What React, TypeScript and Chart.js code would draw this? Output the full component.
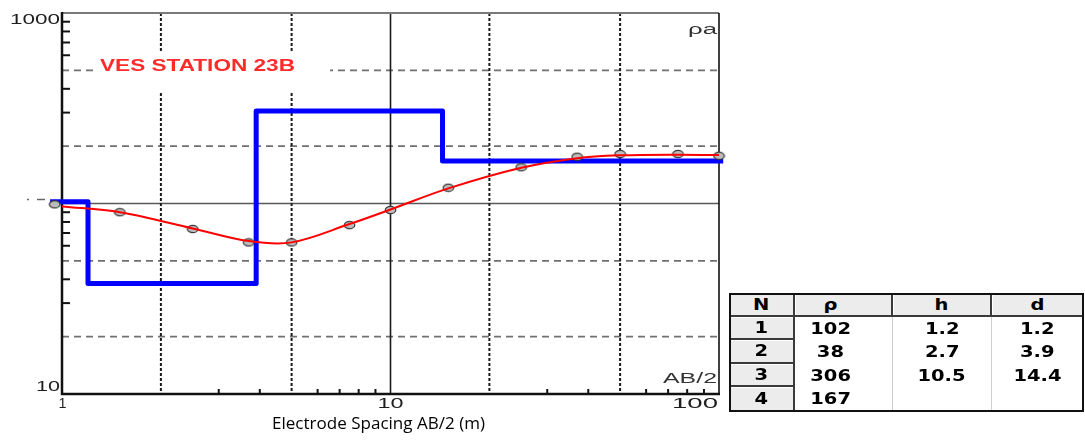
import React, { useEffect, useRef } from "react";
import { Chart, registerables } from "chart.js";

Chart.register(...registerables);

// ---- Data ----
const abHalf = [0.95, 1.5, 2.5, 3.7, 5, 7.5, 10, 15, 25, 37, 50, 75, 100];
const rhoApparent = [99, 90, 73.5, 62.5, 62.5, 77, 92.5, 121, 155, 176, 182, 182, 178];

const curveAB = [1, 1.5, 2.5, 3.7, 5, 7.5, 10, 15, 25, 37, 50, 75, 100, 103];
const curveRho = [96.5, 90, 74, 63.5, 62.5, 78, 93, 120, 154, 173, 179, 180.5, 179.5, 179];

const layerN = [1, 2, 3, 4];
const layerRho = [102, 38, 306, 167];
const layerThick = [1.2, 2.7, 10.5];
const layerDepth = [1.2, 3.9, 14.4];
const modelStart = 0.92;
const modelEnd = 103;

const xTickLabels = ["1", "10", "100"];
const xTickValues = [1, 10, 100];
const yTickLabels = ["10", "1000"];
const yTickValues = [10, 1000];
const xMinorTicks = [3, 4, 6, 7, 8, 9, 30, 40, 60, 70, 80, 90];
const xDottedGrid = [2, 5, 20, 50];
const xSolidGrid = [10];
const yMinorTicks = [30, 40, 60, 70, 80, 90, 300, 400, 600, 700, 800, 900];
const yDashedGrid = [20, 50, 200, 500];
const ySolidGrid = [100];

const chartTitle = "VES STATION 23B";
const xAxisTitle = "Electrode Spacing AB/2 (m)";
const yCornerLabel = "ρa";
const xCornerLabel = "AB/2";
const tableHeaders = ["N", "ρ", "h", "d"];

// ---- helpers ----
function makeMarker(): HTMLCanvasElement {
  const c = document.createElement("canvas");
  c.width = 13;
  c.height = 10;
  const g = c.getContext("2d")!;
  g.beginPath();
  g.ellipse(6.5, 5, 5.3, 3.7, 0, 0, Math.PI * 2);
  g.fillStyle = "#bcbcbc";
  g.fill();
  g.lineWidth = 1.2;
  g.strokeStyle = "#3a3a3a";
  g.stroke();
  return c;
}

function txt(
  ctx: CanvasRenderingContext2D,
  s: string,
  x: number,
  y: number,
  font: string,
  color: string,
  align: CanvasTextAlign,
  width?: number
) {
  ctx.save();
  ctx.font = font;
  ctx.fillStyle = color;
  ctx.textBaseline = "middle";
  const w = ctx.measureText(s).width;
  const sx = width ? width / w : 1;
  ctx.translate(x, y);
  ctx.scale(sx, 1);
  ctx.textAlign = align;
  ctx.fillText(s, 0, 0);
  ctx.restore();
}

function line(ctx: CanvasRenderingContext2D, x1: number, y1: number, x2: number, y2: number) {
  ctx.beginPath();
  ctx.moveTo(x1, y1);
  ctx.lineTo(x2, y2);
  ctx.stroke();
}

const framePlugin = {
  id: "vesFrame",
  beforeDatasetsDraw(chart: any) {
    const { ctx, chartArea: a, scales } = chart;
    const x = scales.x;
    const y = scales.y;
    ctx.save();

    // horizontal dashed grid
    ctx.lineWidth = 1.8;
    ctx.strokeStyle = "#707070";
    ctx.setLineDash([7, 5]);
    for (const v of yDashedGrid) {
      const py = y.getPixelForValue(v);
      line(ctx, a.left, py, a.right, py);
    }
    // horizontal solid grid
    ctx.setLineDash([]);
    ctx.strokeStyle = "#5a5a5a";
    ctx.lineWidth = 1.3;
    for (const v of ySolidGrid) {
      const py = y.getPixelForValue(v);
      line(ctx, a.left, py, a.right, py);
    }
    // vertical dotted grid
    ctx.strokeStyle = "#1a1a1a";
    ctx.lineWidth = 2;
    ctx.setLineDash([3, 2]);
    for (const v of xDottedGrid) {
      const px = x.getPixelForValue(v);
      line(ctx, px, a.top, px, a.bottom);
    }
    ctx.setLineDash([]);
    ctx.lineWidth = 1.6;
    for (const v of xSolidGrid) {
      const px = x.getPixelForValue(v);
      line(ctx, px, a.top, px, a.bottom);
    }

    // title box
    ctx.fillStyle = "#ffffff";
    ctx.fillRect(93, 53, 237, 40);
    txt(ctx, chartTitle, 197.5, 67, "bold 16px 'Liberation Sans', Arial, sans-serif", "#ff2b2b", "center", 195);

    // frame: top grey, right black
    ctx.strokeStyle = "#7a7a7a";
    ctx.lineWidth = 2;
    line(ctx, a.left, a.top, a.right, a.top);
    ctx.strokeStyle = "#111";
    ctx.lineWidth = 1.6;
    line(ctx, a.right, a.top, a.right, a.bottom);
    // axes
    ctx.strokeStyle = "#111";
    ctx.lineWidth = 2.5;
    line(ctx, a.left, a.top - 1, a.left, a.bottom + 1);
    line(ctx, a.left - 1, a.bottom, a.right + 1, a.bottom);
    // ticks
    ctx.lineWidth = 2;
    for (const v of yMinorTicks) {
      const py = y.getPixelForValue(v);
      line(ctx, a.left, py, a.left + 8, py);
    }
    for (const v of xMinorTicks) {
      const px = x.getPixelForValue(v);
      line(ctx, px, a.bottom, px, a.bottom - 5);
    }
    // stray marks left of the axis at 100
    ctx.strokeStyle = "#666";
    ctx.lineWidth = 1.5;
    const p100 = y.getPixelForValue(100) - 4;
    line(ctx, 27, p100, 29, p100);
    line(ctx, 37, p100, 45, p100);

    // tick labels
    const lf = "15px 'Liberation Sans', Arial, sans-serif";
    const lc = "#1e1e1e";
    txt(ctx, yTickLabels[1], 60, y.getPixelForValue(yTickValues[1]) + 7, lf, lc, "right", 50);
    txt(ctx, yTickLabels[0], 60, y.getPixelForValue(yTickValues[0]) - 7, lf, lc, "right", 24);
    txt(ctx, xTickLabels[0], x.getPixelForValue(xTickValues[0]) + 0.5, 404, lf, lc, "center", 8);
    txt(ctx, xTickLabels[1], x.getPixelForValue(xTickValues[1]), 404, lf, lc, "center", 26);
    txt(ctx, xTickLabels[2], x.getPixelForValue(xTickValues[2]) - 1, 404, lf, lc, "right", 46);

    // corner labels
    txt(ctx, yCornerLabel, 717, 30, "14px 'Liberation Sans', Arial, sans-serif", "#333", "right", 29);
    txt(ctx, xCornerLabel, 717, 379, "14px 'Liberation Sans', Arial, sans-serif", "#333", "right", 54);

    // axis title
    txt(ctx, xAxisTitle, 378.5, 424, "17px 'Open Sans', 'Noto Sans', sans-serif", "#000", "center", 213);

    ctx.restore();
  },
};

const cellFont: React.CSSProperties = {
  fontFamily: "'DejaVu Sans', Arial, sans-serif",
  fontWeight: 700,
  fontSize: 15,
  lineHeight: "15px",
  color: "#000",
  display: "inline-block",
  transform: "scaleX(1.3)",
};

function ResultTable() {
  const colX = [730, 795, 893, 992, 1083];
  const rowY = [294, 317, 340, 364, 387, 411];
  const rows = layerN.map((n, i) => [
    String(n),
    String(layerRho[i]),
    i < layerThick.length ? String(layerThick[i]) : "",
    i < layerDepth.length ? String(layerDepth[i]) : "",
  ]);
  const cells: React.ReactNode[] = [];
  const all = [tableHeaders, ...rows];
  all.forEach((r, ri) => {
    r.forEach((val, ci) => {
      const left = colX[ci];
      const top = rowY[ri];
      const w = colX[ci + 1] - left;
      const h = rowY[ri + 1] - top;
      const isHeader = ri === 0;
      const isN = ci === 0;
      const grey = isHeader || isN;
      const style: React.CSSProperties = {
        position: "absolute",
        left,
        top,
        width: w,
        height: h,
        boxSizing: "border-box",
        background: grey ? "#ececec" : "#fff",
        display: "flex",
        alignItems: "center",
        justifyContent: "center",
        paddingRight: ci === 1 ? 26 : 0,
        paddingTop: 1,
      };
      if (grey) {
        style.borderRight = "2px solid #3a3a3a";
        style.borderBottom = "2px solid #3a3a3a";
        style.boxShadow = "inset 1px 1px 0 #ffffff";
      } else if (ci < 3) {
        style.borderRight = "1px solid #cfcfcf";
      }
      if (ci === 3 && grey) style.borderRight = "none";
      if (ri === all.length - 1 && isN) style.borderBottom = "none";
      cells.push(
        <div key={ri + "-" + ci} style={style}>
          <span style={cellFont}>{val}</span>
        </div>
      );
    });
  });
  return (
    <div>
      {cells}
      <div
        style={{
          position: "absolute",
          left: colX[0] - 1,
          top: rowY[0] - 1,
          width: colX[4] - colX[0] + 2,
          height: rowY[5] - rowY[0] + 2,
          border: "2px solid #111",
          boxSizing: "border-box",
          pointerEvents: "none",
        }}
      />
    </div>
  );
}

export default function App() {
  const ref = useRef<HTMLCanvasElement>(null);

  useEffect(() => {
    if (!ref.current) return;
    const marker = makeMarker();
    const stepX = [modelStart, ...layerDepth, modelEnd];
    const stepY = [...layerRho, layerRho[layerRho.length - 1]];
    const chart = new Chart(ref.current, {
      type: "scatter",
      data: {
        datasets: [
          {
            label: "model",
            data: stepX.map((v, i) => ({ x: v, y: stepY[i] })),
            showLine: true,
            stepped: "before",
            borderColor: "#0000ff",
            borderWidth: 5,
            pointRadius: 0,
            borderJoinStyle: "round",
            borderCapStyle: "butt",
            clip: false,
            order: 2,
          } as any,
          {
            label: "calculated",
            data: curveAB.map((v, i) => ({ x: v, y: curveRho[i] })),
            showLine: true,
            borderColor: "#ff0000",
            borderWidth: 2,
            pointRadius: 0,
            tension: 0.35,
            clip: false,
            order: 0,
          } as any,
          {
            label: "field",
            data: abHalf.map((v, i) => ({ x: v, y: rhoApparent[i] })),
            showLine: false,
            pointStyle: marker,
            pointRadius: 12,
            pointBorderWidth: 0,
            clip: false,
            order: 1,
          } as any,
        ],
      },
      options: {
        animation: false,
        responsive: false,
        maintainAspectRatio: false,
        events: [],
        layout: { padding: { left: 62, right: 366, top: 13, bottom: 47 } },
        plugins: {
          legend: { display: false },
          tooltip: { enabled: false },
          title: { display: false },
        },
        scales: {
          x: { type: "logarithmic", min: 1, max: 100, display: false },
          y: { type: "logarithmic", min: 10, max: 1000, display: false },
        },
      },
      plugins: [framePlugin],
    });
    return () => chart.destroy();
  }, []);

  return (
    <div style={{ position: "absolute", left: 0, top: 0, width: 1085, height: 441, background: "#fff" }}>
      <canvas
        ref={ref}
        width={1085}
        height={441}
        style={{ position: "absolute", left: 0, top: 0, width: 1085, height: 441 }}
      />
      <ResultTable />
    </div>
  );
}
